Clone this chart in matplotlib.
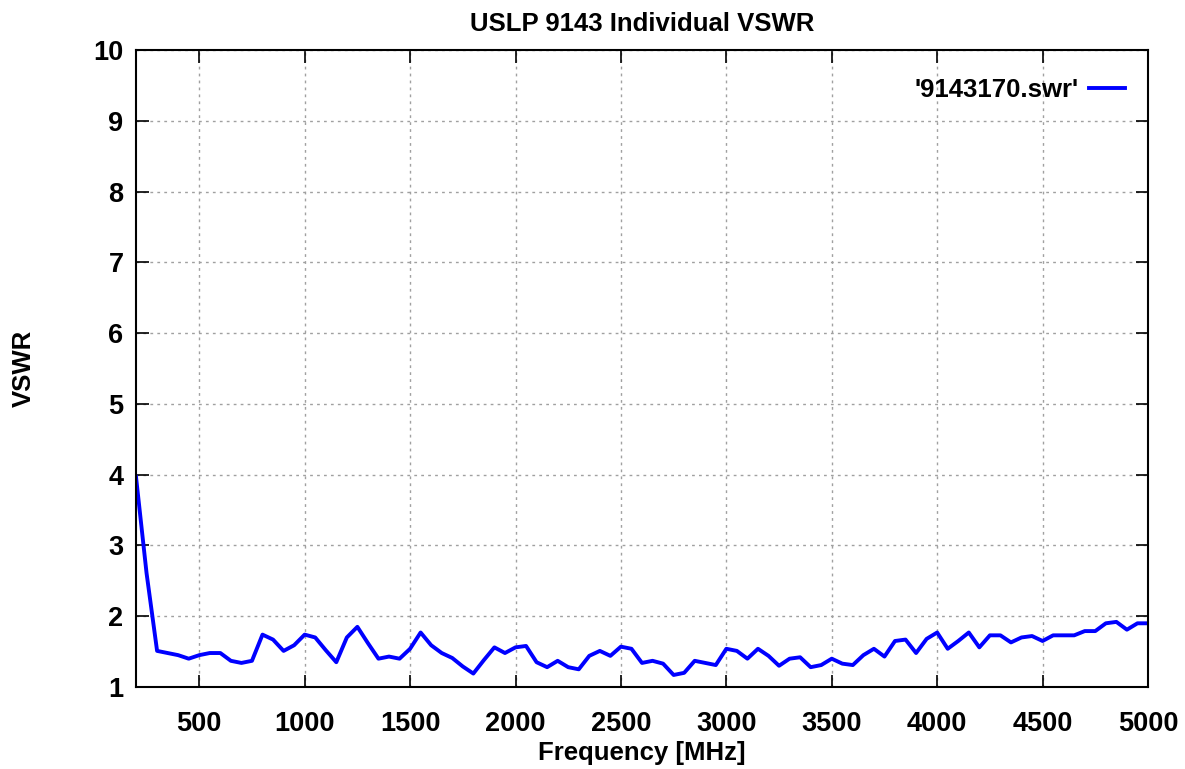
import numpy as np
import matplotlib
matplotlib.use('Agg')
import matplotlib.pyplot as plt

# ==== データ ====
freq_mhz = np.arange(200, 5001, 50)
vswr = [3.97, 2.61, 1.51, 1.48, 1.45, 1.40, 1.45, 1.48, 1.48, 1.37,
        1.34, 1.37, 1.74, 1.67, 1.51, 1.59, 1.74, 1.70, 1.52, 1.35,
        1.70, 1.85, 1.62, 1.40, 1.43, 1.40, 1.54, 1.77, 1.59, 1.48,
        1.41, 1.29, 1.19, 1.38, 1.56, 1.48, 1.56, 1.58, 1.35, 1.28,
        1.37, 1.28, 1.25, 1.44, 1.51, 1.44, 1.57, 1.54, 1.34, 1.37,
        1.33, 1.17, 1.20, 1.37, 1.34, 1.31, 1.54, 1.51, 1.40, 1.54,
        1.44, 1.30, 1.40, 1.42, 1.28, 1.31, 1.40, 1.33, 1.31, 1.45,
        1.54, 1.43, 1.65, 1.67, 1.48, 1.68, 1.77, 1.54, 1.65, 1.77,
        1.56, 1.73, 1.73, 1.63, 1.70, 1.72, 1.65, 1.73, 1.73, 1.73,
        1.79, 1.79, 1.90, 1.92, 1.81, 1.90, 1.90]
series_label = "'9143170.swr'"
x_ticks = [500, 1000, 1500, 2000, 2500, 3000, 3500, 4000, 4500, 5000]
y_ticks = list(range(1, 11))

plt.rcParams['font.family'] = ['Liberation Sans', 'DejaVu Sans']
plt.rcParams['font.weight'] = 'bold'

fig = plt.figure(figsize=(11.85, 7.69), dpi=100)
ax = fig.add_axes([136/1185, 1 - 687/769, (1148 - 136)/1185, (687 - 50)/769])

ax.plot(freq_mhz, vswr, color='#0000ff', lw=2.8, label=series_label)

ax.set_xlim(200, 5000)
ax.set_ylim(1, 10)
ax.set_xticks(x_ticks)
ax.set_yticks(y_ticks)
ax.tick_params(direction='in', length=9, width=1.2, top=True, right=True,
               labelsize=19.5)
ax.tick_params(axis='x', pad=17)
ax.tick_params(axis='y', pad=9)
for lab in ax.get_xticklabels() + ax.get_yticklabels():
    lab.set_fontweight('bold')
for sp in ax.spines.values():
    sp.set_linewidth(1.5)

ax.grid(True, color='#a0a0a0', linestyle=(0, (2, 3)), lw=1.0)

ax.set_title('USLP 9143 Individual VSWR', fontsize=18.5, fontweight='bold', pad=14)
ax.set_xlabel('Frequency [MHz]', fontsize=18.5, fontweight='bold', labelpad=3)
ax.set_ylabel('VSWR', fontsize=18.5, fontweight='bold')
ax.yaxis.set_label_coords((36 - 136) / 1012, 0.5)

leg = ax.legend(loc='upper right', bbox_to_anchor=(1.0, 1 - 5 / 637),
                frameon=False, markerfirst=False,
                handlelength=1.4, handletextpad=0.4, borderaxespad=0.5,
                prop={'weight': 'bold', 'size': 18.5})

fig.savefig('out.png', dpi=100)
